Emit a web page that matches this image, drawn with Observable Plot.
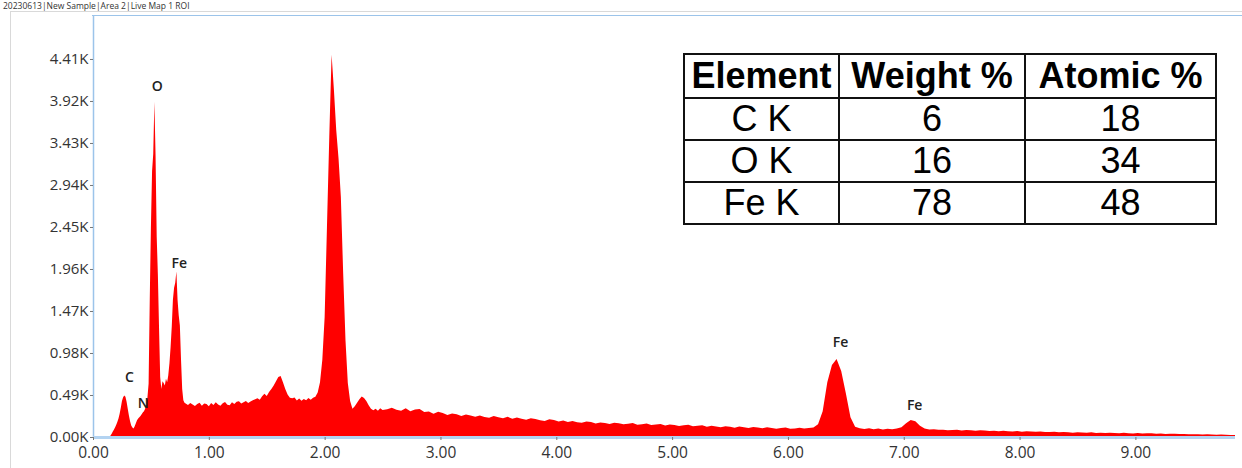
<!DOCTYPE html>
<html>
<head>
<meta charset="utf-8">
<script src="https://cdn.jsdelivr.net/npm/d3@7"></script>
<script src="https://cdn.jsdelivr.net/npm/@observablehq/plot@0.6"></script>
<style>
  html, body { margin: 0; padding: 0; background: #fff; }
  #wrap { position: relative; width: 1242px; height: 468px; overflow: hidden; font-family: "Open Sans", sans-serif; }
  #title { position: absolute; left: 3px; top: 1px; font-size: 8.5px; line-height: 9px; color: #333; white-space: nowrap; }
  .line { position: absolute; }
  #grayTop { left: 10px; top: 11px; width: 1232px; border-top: 1.5px solid #d9d9d9; }
  #grayLeft { left: 10px; top: 11px; height: 457px; border-left: 1.5px solid #d9d9d9; }
  #blueTop { left: 92px; top: 15px; width: 1150px; border-top: 1.5px solid #9cc4ea; }
  #chart { position: absolute; left: 0; top: 0; }
  #quant { position: absolute; left: 683px; top: 53px; border-collapse: collapse; table-layout: fixed; width: 532px;
           font-family: "Liberation Sans", Arial, sans-serif; font-size: 36px; color: #000; background: #fff; }
  #quant td, #quant th { border: 2.5px solid #111; padding: 0; text-align: center; line-height: 38px; white-space: nowrap; overflow: hidden; }
  #quant th { font-weight: bold; height: 42px; }
  #quant td { height: 40px; }
</style>
</head>
<body>
<div id="wrap">
  <div id="title">20230613|New Sample|Area 2|Live Map 1 ROI</div>
  <div class="line" id="grayTop"></div>
  <div class="line" id="grayLeft"></div>
  <div class="line" id="blueTop"></div>
  <div id="chart"></div>
  <table id="quant"><colgroup><col style="width:155px"><col style="width:186px"><col style="width:191px"></colgroup></table>
</div>
<script>
// EDS spectrum counts, read channel by channel.
// Low band: 0.14–0.80 keV in 0.01 keV channels (C, N, O K and Fe L lines)
const lowBand = [
  0, 15, 35, 60, 85, 110, 140, 175, 215, 270,          // 0.14
  340, 420, 465, 485, 470, 410, 330, 250, 185, 135,    // 0.24
  110, 100, 125, 160, 195, 215, 230, 245, 265, 285,    // 0.34
  300, 330, 380, 460, 620, 1600, 2450, 3100, 3300, 3910, // 0.44
  3290, 2340, 1900, 1280, 700, 560, 650, 630, 600, 680,  // 0.54
  640, 720, 860, 1050, 1290, 1600, 1740, 1800, 1930, 1600, // 0.64
  1420, 1300, 900, 560, 430, 400, 390                  // 0.74
];
// Mid band: 0.82–2.50 keV in 0.02 keV channels
const midBand = [
  372, 398, 380, 362, 386, 400, 366, 392, 384, 360,    // 0.82
  396, 374, 404, 380, 366, 394, 408, 376, 370, 404,    // 1.02
  386, 410, 416, 392, 404, 420, 398, 414, 430, 440,    // 1.22
  452, 434, 474, 505, 478, 524, 560, 600, 650, 700,    // 1.42
  712, 640, 560, 495, 458, 452, 462, 426, 450, 422,    // 1.62
  444, 428, 454, 434, 458, 470, 520, 640, 900, 1400,   // 1.82
  2450, 3500, 4460, 4050, 3580, 3250, 2800, 1910, 1130, 630, // 2.02
  420, 330, 360, 400, 440, 472, 455, 420, 370, 330,    // 2.22
  312, 330, 306, 336, 316                              // 2.42
];
// High band: 2.54–9.86 keV in 0.04 keV channels (Fe K lines)
const highBand = [
  325, 342, 318, 306, 334, 300, 322, 328, 292, 298,    // 2.54
  272, 294, 281, 258, 274, 266, 244, 262, 250, 236,    // 2.94
  252, 232, 224, 246, 230, 218, 236, 212, 228, 214,    // 3.34
  200, 218, 210, 194, 188, 206, 199, 182, 192, 176,    // 3.74
  186, 172, 166, 180, 174, 158, 170, 163, 152, 167,    // 4.14
  160, 148, 156, 162, 142, 150, 157, 139, 146, 151,    // 4.54
  134, 146, 140, 128, 137, 143, 124, 131, 138, 120,    // 4.94
  131, 122, 114, 126, 119, 108, 123, 115, 104, 117,    // 5.34
  110, 101, 113, 106, 96, 104, 110, 95, 100, 107,      // 5.74
  100, 104, 112, 150, 300, 640, 840, 910, 770, 510,    // 6.14
  230, 120, 102, 94, 102, 90, 99, 88, 97, 89,          // 6.54
  98, 115, 160, 198, 185, 130, 100, 88, 90, 84,        // 6.94
  86, 80, 83, 84, 76, 81, 79, 72, 78, 75,              // 7.34
  70, 74, 68, 72, 66, 64, 69, 61, 66, 63,              // 7.74
  60, 64, 57, 59, 61, 54, 58, 56, 51, 55,              // 8.14
  53, 49, 54, 48, 51, 46, 50, 47, 44, 49,              // 8.54
  45, 42, 47, 40, 43, 44, 38, 41, 36, 39,              // 8.94
  37, 34, 36, 31, 33, 32, 28, 31, 29, 26,              // 9.34
  28, 25, 24, 22                                       // 9.74
];
const bandStarts = [0.14, 0.82, 2.54];
const bandSteps = [0.01, 0.02, 0.04];

// Axis ticks
const xTicks = [0, 1, 2, 3, 4, 5, 6, 7, 8, 9];
const yTicks = [0, 490, 980, 1470, 1960, 2450, 2940, 3430, 3920, 4410];

// Peak identification labels
const peakNames = ["C", "N", "O", "Fe", "Fe", "Fe"];
const peakKeV = [0.31, 0.43, 0.55, 0.74, 6.45, 7.09];
const peakLabelCounts = [700, 400, 4100, 2030, 1110, 375];

// Quantification table
const tableHeader = ["Element", "Weight %", "Atomic %"];
const tableElements = ["C K", "O K", "Fe K"];
const weightPct = [6, 16, 78];
const atomicPct = [18, 34, 48];

const spectrum = [lowBand, midBand, highBand].flatMap((band, b) =>
  band.map((c, i) => ({ keV: bandStarts[b] + i * bandSteps[b], counts: c }))
);
const labels = peakNames.map((name, i) => ({ name, keV: peakKeV[i], counts: peakLabelCounts[i] }));

const chart = Plot.plot({
  width: 1242,
  height: 468,
  marginLeft: 93,
  marginRight: 7,
  marginTop: 15,
  marginBottom: 31,
  style: { fontFamily: "Open Sans, sans-serif", color: "#333", background: "transparent", overflow: "visible" },
  x: { domain: [0, 9.86] },
  y: { domain: [0, 4923] },
  marks: [
    Plot.areaY(spectrum, { x: "keV", y: "counts", fill: "#ff0000", curve: "linear" }),
    Plot.ruleX([0], { stroke: "#9cc4ea", strokeWidth: 1.5 }),
    Plot.ruleY([0], { stroke: "#b3d3f1", strokeWidth: 3 }),
    Plot.axisY({ ticks: yTicks, tickFormat: d => (d / 1000).toFixed(2) + "K", tickSize: 3, tickPadding: 2,
                 fontSize: 15, stroke: "#777", label: null }),
    Plot.axisX({ ticks: xTicks, tickFormat: d => d.toFixed(2), tickSize: 3, tickPadding: 6,
                 fontSize: 15.5, stroke: "#777", label: null }),
    Plot.text(labels, { x: "keV", y: "counts", text: "name", fontSize: 14, fontWeight: 600, fill: "#222" })
  ]
});
document.getElementById("chart").appendChild(chart);

// Build the quantification table
const table = d3.select("#quant");
table.append("tr").selectAll("th").data(tableHeader).join("th").text(d => d);
tableElements.forEach((el, i) => {
  table.append("tr").selectAll("td").data([el, weightPct[i], atomicPct[i]]).join("td").text(d => d);
});
</script>
</body>
</html>
